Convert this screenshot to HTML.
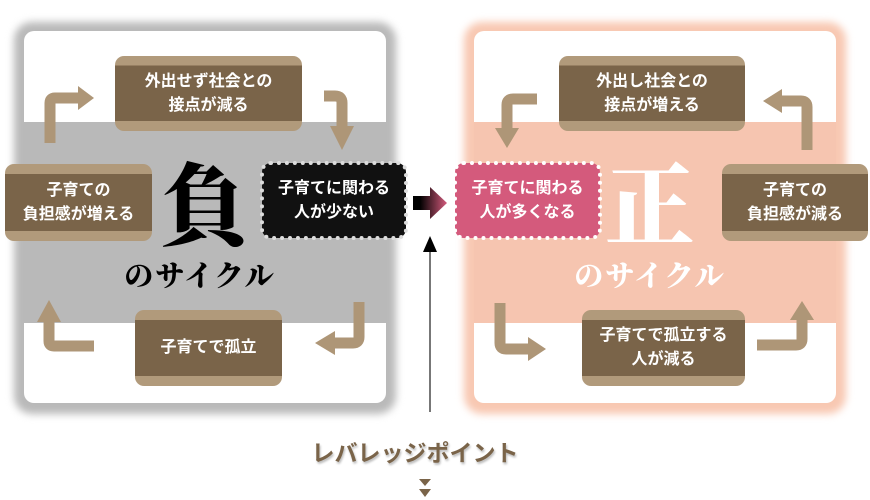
<!DOCTYPE html>
<html><head><meta charset="utf-8"><style>
*{margin:0;padding:0;box-sizing:border-box}
body{width:870px;height:500px;background:#fff;position:relative;overflow:hidden;font-family:"Liberation Sans","Noto Sans CJK JP",sans-serif}
.abs{position:absolute}
.frame{position:absolute;border-radius:18px;filter:blur(4px)}
.white{position:absolute;background:#fff;border-radius:10px}
.node{position:absolute;border-radius:9px;color:#fff;font-size:16px;line-height:24px;text-align:center;display:flex;align-items:center;justify-content:center;font-weight:bold}
.brown{background:linear-gradient(#b19a7b 0,#b19a7b 13%,#7a6449 13%,#7a6449 87%,#b19a7b 87%)}
.big{position:absolute;font-family:"Noto Serif CJK SC","Liberation Serif",serif;font-weight:900;text-align:center}
</style></head><body>
<div class="frame" style="left:14px;top:22px;width:382px;height:392px;background:#b9b9b9"></div>
<div class="frame" style="left:464px;top:22px;width:382px;height:392px;background:#f8c8b2"></div>
<div class="white" style="left:24px;top:31px;width:362px;height:372px"></div>
<div class="white" style="left:474px;top:31px;width:362px;height:372px"></div>
<div class="abs" style="left:24px;top:122px;width:362px;height:201px;background:#b9b9b9"></div>
<div class="abs" style="left:474px;top:122px;width:362px;height:201px;background:#f6c5b0"></div>

<svg class="abs" style="left:0;top:0" width="870" height="500">
<g fill="none" stroke="#ae9677" stroke-width="11">
<path d="M50 143 V103 Q50 98 55 98 H80"/>
<path d="M324 96 H335 Q342 96 342 103 V128"/>
<path d="M359 302 V337 Q359 343 353 343 H333"/>
<path d="M94 346 H54 Q49 346 49 341 V320"/>
<path d="M537 99 H513 Q507 99 507 105 V130"/>
<path d="M807 150 V107 Q807 101 801 101 H780"/>
<path d="M500 303 V343 Q500 349 506 349 H530"/>
<path d="M757 345 H796 Q802 345 802 339 V318"/>
</g>
<g fill="#ae9677">
<path d="M78 86 L94 98 L78 110Z"/>
<path d="M330 126 L342 150 L354 126Z"/>
<path d="M335 331 L315 343 L335 355Z"/>
<path d="M37 322 L49 300 L61 322Z"/>
<path d="M495 128 L507 148 L519 128Z"/>
<path d="M782 89 L763 101 L782 113Z"/>
<path d="M528 337 L546 349 L528 361Z"/>
<path d="M790 320 L802 301 L814 320Z"/>
</g>
<defs><linearGradient id="g" x1="0" x2="1"><stop offset="0.2" stop-color="#000"/><stop offset="1" stop-color="#d45a7c"/></linearGradient></defs>
<path d="M413 196 H430 V187 L447 203 L430 219 V210 H413Z" fill="url(#g)"/>
<line x1="430" y1="250" x2="430" y2="412" stroke="#777" stroke-width="2"/>
<path d="M423 252 L430 236 L437 252Z" fill="#000"/>
<path d="M419 479 H431 L425 486Z M419 489 H431 L425 497Z" fill="#7a6449"/>
</svg>

<div class="node brown" style="left:115px;top:56px;width:187px;height:75px">外出せず社会との<br>接点が減る</div>
<div class="node brown" style="left:5px;top:164px;width:147px;height:77px">子育ての<br>負担感が増える</div>
<div class="node" style="left:262px;top:163px;width:144px;height:75px;background:#111;outline:4px dotted #ddd;outline-offset:-2px">子育てに関わる<br>人が少ない</div>
<div class="node brown" style="left:135px;top:310px;width:147px;height:76px">子育てで孤立</div>

<div class="node brown" style="left:559px;top:56px;width:186px;height:75px">外出し社会との<br>接点が増える</div>
<div class="node" style="left:455px;top:163px;width:145px;height:75px;background:#d45a7c;outline:4px dotted #fff;outline-offset:-2px">子育てに関わる<br>人が多くなる</div>
<div class="node brown" style="left:722px;top:164px;width:146px;height:77px">子育ての<br>負担感が減る</div>
<div class="node brown" style="left:582px;top:310px;width:163px;height:76px">子育てで孤立する<br>人が減る</div>

<div class="big" style="left:150px;top:144px;width:110px;font-size:90px;line-height:110px;color:#000">負</div>
<div class="big" style="left:100px;top:256px;width:200px;font-size:29px;line-height:38px;letter-spacing:2px;color:#000">のサイクル</div>
<div class="big" style="left:595px;top:144px;width:110px;font-size:90px;line-height:110px;color:#fff">正</div>
<div class="big" style="left:550px;top:256px;width:200px;font-size:29px;line-height:38px;letter-spacing:2px;color:#fff">のサイクル</div>

<div class="abs" style="left:290px;top:434px;width:250px;text-align:center;font-size:23px;font-weight:bold;color:#7a6449;text-shadow:1px 2px 2px #bbb">レバレッジポイント</div>
</body></html>
